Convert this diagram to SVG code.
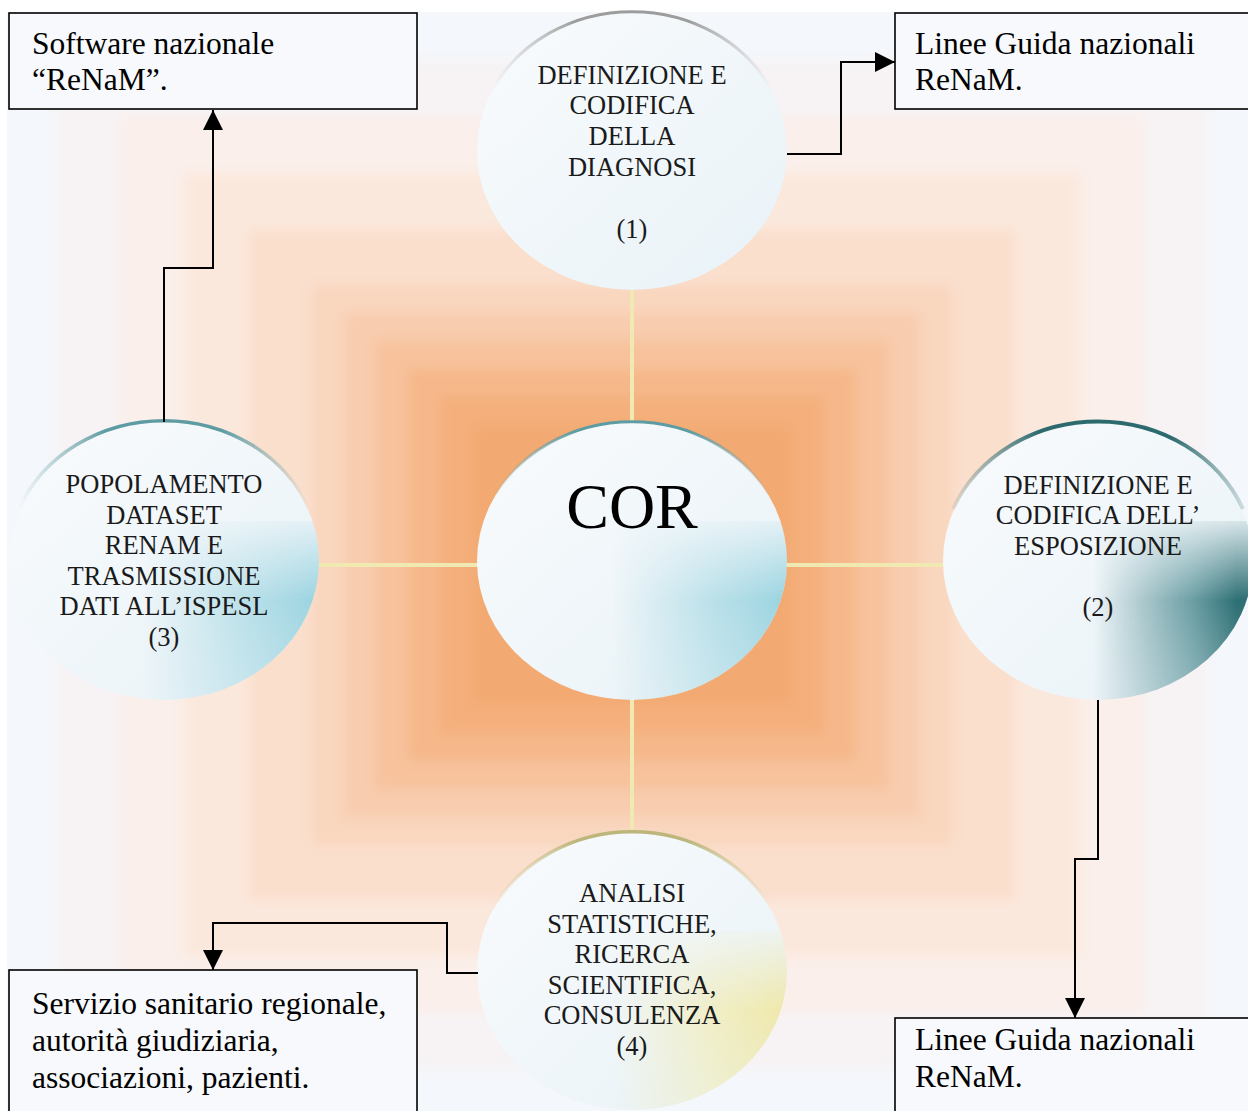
<svg xmlns="http://www.w3.org/2000/svg" width="1248" height="1111" viewBox="0 0 1248 1111">
<style>
.ct{font-family:"Liberation Serif","Times New Roman",serif;font-size:26.5px;fill:#1a1a1a;text-anchor:middle}
.bt{font-family:"Liberation Serif","Times New Roman",serif;font-size:31.5px;fill:#000}
.box{fill:#F7F9FC;stroke:#000;stroke-width:1.6}
.con{fill:none;stroke:#000;stroke-width:2}
.cross{stroke:#F1E9B2;stroke-width:4}
</style>
<defs>
<marker id="ah" markerWidth="20" markerHeight="20" refX="20" refY="10" orient="auto" markerUnits="userSpaceOnUse"><path d="M0,0 L20,10 L0,20 z" fill="#000"/></marker>
<clipPath id="bgclip"><rect x="7" y="12" width="1241" height="1099"/></clipPath>
<filter id="soft" x="-5%" y="-5%" width="110%" height="110%"><feGaussianBlur stdDeviation="6"/></filter>
<linearGradient id="cfill" x1="0" y1="0" x2="1" y2="1"><stop offset="0" stop-color="#F9FBFD"/><stop offset="1" stop-color="#E8F2F7"/></linearGradient>
<linearGradient id="vfade" x1="0" y1="0" x2="0" y2="1"><stop offset="0" stop-color="#000"/><stop offset="0.45" stop-color="#fff"/><stop offset="1" stop-color="#aaa"/></linearGradient>
<mask id="shm" maskContentUnits="userSpaceOnUse"><rect x="-30" y="-50" width="200" height="200" fill="url(#vfade)"/></mask>
<linearGradient id="shCyan" x1="0" y1="0" x2="1" y2="0"><stop offset="0" stop-color="#9CD4E0" stop-opacity="0"/><stop offset="0.6" stop-color="#9CD4E0" stop-opacity="0.65"/><stop offset="1" stop-color="#8ACDDB" stop-opacity="0.85"/></linearGradient>
<linearGradient id="shTeal" x1="0" y1="0" x2="1" y2="0"><stop offset="0" stop-color="#2F7378" stop-opacity="0"/><stop offset="0.6" stop-color="#3A7E84" stop-opacity="0.7"/><stop offset="0.9" stop-color="#2C6E73" stop-opacity="1"/></linearGradient>
<linearGradient id="shYel" x1="0" y1="0" x2="1" y2="0"><stop offset="0" stop-color="#F2EAA8" stop-opacity="0"/><stop offset="0.6" stop-color="#F2EAA8" stop-opacity="0.65"/><stop offset="1" stop-color="#EFE59A" stop-opacity="0.85"/></linearGradient>
<linearGradient id="rimTeal" x1="0" y1="0" x2="1" y2="0"><stop offset="0" stop-color="#6FA8AE" stop-opacity="0"/><stop offset="0.3" stop-color="#5E9CA3"/><stop offset="0.7" stop-color="#5E9CA3"/><stop offset="1" stop-color="#6FA8AE" stop-opacity="0"/></linearGradient>
<linearGradient id="rimDark" x1="0" y1="0" x2="1" y2="0"><stop offset="0" stop-color="#2C6A6E" stop-opacity="0.1"/><stop offset="0.3" stop-color="#2C6A6E"/><stop offset="0.75" stop-color="#2C6A6E"/><stop offset="1" stop-color="#2C6A6E" stop-opacity="0.2"/></linearGradient>
<linearGradient id="rimGray" x1="0" y1="0" x2="1" y2="0"><stop offset="0" stop-color="#A8A8A8" stop-opacity="0"/><stop offset="0.3" stop-color="#9C9C9C"/><stop offset="0.7" stop-color="#9C9C9C"/><stop offset="1" stop-color="#A8A8A8" stop-opacity="0"/></linearGradient>
<linearGradient id="rimYel" x1="0" y1="0" x2="1" y2="0"><stop offset="0" stop-color="#C9C38A" stop-opacity="0"/><stop offset="0.3" stop-color="#BDB67C"/><stop offset="0.7" stop-color="#BDB67C"/><stop offset="1" stop-color="#C9C38A" stop-opacity="0"/></linearGradient>
<clipPath id="ell"><ellipse cx="0" cy="0" rx="155" ry="139"/></clipPath>
</defs>

<rect width="1248" height="1111" fill="#fff"/>
<g id="background" clip-path="url(#bgclip)">
<g filter="url(#soft)">
<rect x="-8" y="5" width="1280" height="1120" fill="#F4F7FB"/>
<rect x="56" y="61" width="1152" height="1008" fill="#F7F3F4"/>
<rect x="120" y="117" width="1024" height="896" fill="#FAEFEA"/>
<rect x="184" y="173" width="896" height="784" fill="#FBE8DD"/>
<rect x="248" y="229" width="768" height="672" fill="#FADFCD"/>
<rect x="312" y="285" width="640" height="560" fill="#F9D6BE"/>
<rect x="344" y="313" width="576" height="504" fill="#F8CCAE"/>
<rect x="376" y="341" width="512" height="448" fill="#F7C29C"/>
<rect x="408" y="369" width="448" height="392" fill="#F6B88A"/>
<rect x="440" y="397" width="384" height="336" fill="#F4AF7B"/>
<rect x="472" y="425" width="320" height="280" fill="#F3AA72"/>
</g>
</g>

<g id="cross-lines">
<line class="cross" x1="316" y1="565" x2="480" y2="565"/>
<line class="cross" x1="784" y1="565" x2="948" y2="565"/>
<line class="cross" x1="632" y1="286" x2="632" y2="426"/>
<line class="cross" x1="632" y1="696" x2="632" y2="836"/>
</g>

<g id="node-cor" transform="translate(632,561)">
<ellipse rx="155" ry="139" fill="url(#cfill)"/>
<g clip-path="url(#ell)"><rect x="-20" y="-40" width="175" height="180" fill="url(#shCyan)" mask="url(#shm)"/></g>
<path d="M-140,-60 A155,139 0 0,1 140,-60" fill="none" stroke="url(#rimTeal)" stroke-width="3"/>
<text x="0" y="-33" font-family="Liberation Serif, Times New Roman, serif" font-size="64" text-anchor="middle" fill="#000">COR</text>
</g>

<g id="node-1" transform="translate(632,151)">
<ellipse rx="155" ry="139" fill="url(#cfill)"/>
<path d="M-140,-60 A155,139 0 0,1 140,-60" fill="none" stroke="url(#rimGray)" stroke-width="3"/>
<text class="ct" x="0" y="-67">DEFINIZIONE E</text>
<text class="ct" x="0" y="-37">CODIFICA</text>
<text class="ct" x="0" y="-6">DELLA</text>
<text class="ct" x="0" y="25">DIAGNOSI</text>
<text class="ct" x="0" y="87">(1)</text>
</g>

<g id="node-2" transform="translate(1098,561)">
<ellipse rx="155" ry="139" fill="url(#cfill)"/>
<g clip-path="url(#ell)"><rect x="-5" y="-40" width="160" height="180" fill="url(#shTeal)" mask="url(#shm)"/></g>
<path d="M-145,-52 A157,142 0 0,1 145,-52" fill="none" stroke="url(#rimDark)" stroke-width="4"/>
<text class="ct" x="0" y="-67">DEFINIZIONE E</text>
<text class="ct" x="0" y="-37">CODIFICA DELL’</text>
<text class="ct" x="0" y="-6">ESPOSIZIONE</text>
<text class="ct" x="0" y="55">(2)</text>
</g>

<g id="node-3" transform="translate(164,561)">
<ellipse rx="155" ry="139" fill="url(#cfill)"/>
<g clip-path="url(#ell)"><rect x="-20" y="-40" width="175" height="180" fill="url(#shCyan)" mask="url(#shm)"/></g>
<path d="M-145,-52 A156,140 0 0,1 145,-52" fill="none" stroke="url(#rimTeal)" stroke-width="3.5"/>
<text class="ct" x="0" y="-68">POPOLAMENTO</text>
<text class="ct" x="0" y="-37.5">DATASET</text>
<text class="ct" x="0" y="-7">RENAM E</text>
<text class="ct" x="0" y="23.5">TRASMISSIONE</text>
<text class="ct" x="0" y="54">DATI ALL’ISPESL</text>
<text class="ct" x="0" y="84.5">(3)</text>
</g>

<g id="node-4" transform="translate(632,971)">
<ellipse rx="155" ry="139" fill="url(#cfill)"/>
<g clip-path="url(#ell)"><rect x="-20" y="-40" width="175" height="180" fill="url(#shYel)" mask="url(#shm)"/></g>
<path d="M-140,-60 A155,139 0 0,1 140,-60" fill="none" stroke="url(#rimYel)" stroke-width="3.5"/>
<text class="ct" x="0" y="-69">ANALISI</text>
<text class="ct" x="0" y="-38.5">STATISTICHE,</text>
<text class="ct" x="0" y="-8">RICERCA</text>
<text class="ct" x="0" y="22.5">SCIENTIFICA,</text>
<text class="ct" x="0" y="53">CONSULENZA</text>
<text class="ct" x="0" y="83.5">(4)</text>
</g>

<g id="box-software">
<rect class="box" x="9" y="13" width="408" height="96"/>
<text class="bt" x="32" y="54">Software nazionale</text>
<text class="bt" x="32" y="90">“ReNaM”.</text>
</g>

<g id="box-linee-top">
<rect class="box" x="895" y="13" width="360" height="96"/>
<text class="bt" x="915" y="54">Linee Guida nazionali</text>
<text class="bt" x="915" y="90">ReNaM.</text>
</g>

<g id="box-servizio">
<rect class="box" x="9" y="970" width="408" height="150"/>
<text class="bt" x="32" y="1014">Servizio sanitario regionale,</text>
<text class="bt" x="32" y="1051">autorità giudiziaria,</text>
<text class="bt" x="32" y="1088">associazioni, pazienti.</text>
</g>

<g id="box-linee-bottom">
<rect class="box" x="895" y="1018" width="360" height="100"/>
<text class="bt" x="915" y="1050">Linee Guida nazionali</text>
<text class="bt" x="915" y="1087">ReNaM.</text>
</g>

<g id="connectors">
<path class="con" d="M164,422 V268 H213 V110" marker-end="url(#ah)"/>
<path class="con" d="M787,154 H841 V62 H895" marker-end="url(#ah)"/>
<path class="con" d="M1098,700 V859 H1075 V1018" marker-end="url(#ah)"/>
<path class="con" d="M478,973 H447 V923 H213 V970" marker-end="url(#ah)"/>
</g>
</svg>
